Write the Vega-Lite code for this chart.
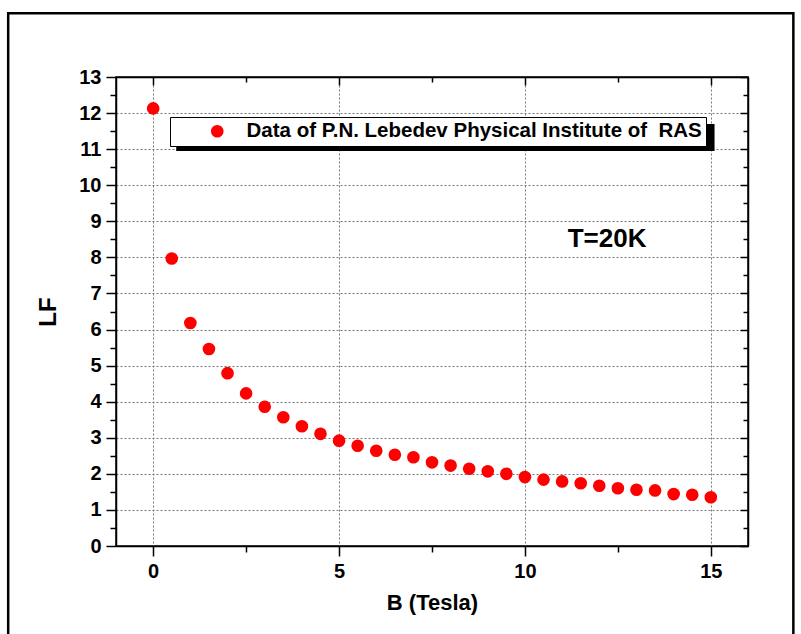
{
  "$schema": "https://vega.github.io/schema/vega-lite/v6.json",
  "width": 632,
  "height": 469,
  "autosize": {"type": "none"},
  "padding": {"left": 116, "top": 77, "right": 53, "bottom": 88},
  "background": "white",
  "config": {
    "font": "Liberation Sans",
    "view": {"stroke": "black", "strokeWidth": 1.5},
    "axis": {
      "domainColor": "black", "domainWidth": 1.5,
      "tickColor": "black", "tickWidth": 1.5,
      "labelFont": "Liberation Sans", "labelFontWeight": "bold", "labelFontSize": 20, "labelColor": "black",
      "titleFont": "Liberation Sans", "titleFontWeight": "bold", "titleColor": "black",
      "gridColor": "#777777", "gridDash": [2, 2], "gridWidth": 1,
      "labelFlush": false, "labelOverlap": false
    }
  },
  "data": {"values": [
    {"B": 0, "LF": 12.13}, {"B": 0.5, "LF": 7.97}, {"B": 1, "LF": 6.18}, {"B": 1.5, "LF": 5.46},
    {"B": 2, "LF": 4.79}, {"B": 2.5, "LF": 4.23}, {"B": 3, "LF": 3.86}, {"B": 3.5, "LF": 3.57},
    {"B": 4, "LF": 3.32}, {"B": 4.5, "LF": 3.11}, {"B": 5, "LF": 2.92}, {"B": 5.5, "LF": 2.78},
    {"B": 6, "LF": 2.64}, {"B": 6.5, "LF": 2.53}, {"B": 7, "LF": 2.46}, {"B": 7.5, "LF": 2.32},
    {"B": 8, "LF": 2.23}, {"B": 8.5, "LF": 2.14}, {"B": 9, "LF": 2.07}, {"B": 9.5, "LF": 2.0},
    {"B": 10, "LF": 1.91}, {"B": 10.5, "LF": 1.84}, {"B": 11, "LF": 1.79}, {"B": 11.5, "LF": 1.74},
    {"B": 12, "LF": 1.67}, {"B": 12.5, "LF": 1.6}, {"B": 13, "LF": 1.56}, {"B": 13.5, "LF": 1.54},
    {"B": 14, "LF": 1.44}, {"B": 14.5, "LF": 1.42}, {"B": 15, "LF": 1.35}
  ]},
  "resolve": {"axis": {"x": "independent", "y": "independent"}},
  "layer": [
    {
      "data": {"values": [{}]},
      "mark": {"type": "rect", "fillOpacity": 0, "stroke": "black", "strokeWidth": 2.5, "clip": false},
      "encoding": {
        "x": {"datum": -3.9, "type": "quantitative", "axis": null, "scale": {"domain": [-1, 16], "nice": false, "zero": false}},
        "x2": {"datum": 17.22},
        "y": {"datum": 14.77, "type": "quantitative", "axis": null, "scale": {"domain": [0, 13], "nice": false, "zero": false}},
        "y2": {"datum": -2.7}
      }
    },
    {
      "data": {"values": [{}]},
      "mark": {"type": "rect", "fill": "black", "clip": false},
      "encoding": {
        "x": {"datum": 0.62, "type": "quantitative", "axis": null},
        "x2": {"datum": 15.1},
        "y": {"datum": 11.7, "type": "quantitative", "axis": null},
        "y2": {"datum": 10.95}
      }
    },
    {
      "mark": {"type": "point", "filled": true, "size": 160, "opacity": 1},
      "encoding": {
        "x": {
          "field": "B", "type": "quantitative",
          "axis": {
            "orient": "bottom",
            "values": [0, 2.5, 5, 7.5, 10, 12.5, 15],
            "labelExpr": "datum.value % 5 === 0 ? format(datum.value, 'd') : ''",
            "tickSize": {"condition": {"test": "datum.value % 5 !== 0", "value": 6}, "value": 10},
            "grid": true,
            "gridOpacity": {"condition": {"test": "datum.value % 5 !== 0", "value": 0}, "value": 1},
            "labelPadding": 5,
            "title": "B (Tesla)", "titleFontSize": 22, "titlePadding": 11
          }
        },
        "y": {
          "field": "LF", "type": "quantitative",
          "axis": {
            "orient": "left",
            "values": [0, 0.5, 1, 1.5, 2, 2.5, 3, 3.5, 4, 4.5, 5, 5.5, 6, 6.5, 7, 7.5, 8, 8.5, 9, 9.5, 10, 10.5, 11, 11.5, 12, 12.5, 13],
            "labelExpr": "datum.value % 1 === 0 ? format(datum.value, 'd') : ''",
            "tickSize": {"condition": {"test": "datum.value % 1 !== 0", "value": 6}, "value": 10},
            "grid": true,
            "gridOpacity": {"condition": {"test": "datum.value % 1 !== 0", "value": 0}, "value": 1},
            "labelPadding": 5,
            "title": "LF", "titleFontSize": 24, "titlePadding": 18
          }
        },
        "color": {
          "datum": "Data of P.N. Lebedev Physical Institute of \u00a0RAS",
          "scale": {"range": ["#ff0000"]},
          "legend": {
            "orient": "none", "legendX": 54, "legendY": 40,
            "title": null, "fillColor": "white", "strokeColor": "black",
            "padding": 4, "symbolOffset": 33, "labelOffset": 19,
            "labelFontSize": 20.5, "labelFont": "Liberation Sans", "labelFontWeight": "bold", "labelColor": "black",
            "symbolSize": 160, "symbolType": "circle", "symbolStrokeWidth": 0, "labelLimit": 1000
          }
        }
      }
    },
    {
      "data": {"values": [{}]},
      "mark": {"type": "text", "text": "T=20K", "font": "Liberation Sans", "fontWeight": "bold", "fontSize": 26, "align": "center", "baseline": "middle", "color": "black"},
      "encoding": {
        "x": {"datum": 12.21, "type": "quantitative", "axis": null},
        "y": {"datum": 8.51, "type": "quantitative", "axis": null}
      }
    },
    {
      "mark": {"type": "point", "opacity": 0},
      "encoding": {
        "x": {
          "field": "B", "type": "quantitative",
          "axis": {
            "orient": "top", "labels": false, "title": null, "grid": false,
            "values": [0, 2.5, 5, 7.5, 10, 12.5, 15],
            "tickSize": {"condition": {"test": "datum.value % 5 !== 0", "value": -5}, "value": -8}
          }
        },
        "y": {
          "field": "LF", "type": "quantitative",
          "axis": {
            "orient": "right", "labels": false, "title": null, "grid": false,
            "values": [0, 0.5, 1, 1.5, 2, 2.5, 3, 3.5, 4, 4.5, 5, 5.5, 6, 6.5, 7, 7.5, 8, 8.5, 9, 9.5, 10, 10.5, 11, 11.5, 12, 12.5, 13],
            "tickSize": {"condition": {"test": "datum.value % 1 !== 0", "value": -5}, "value": -8}
          }
        }
      }
    }
  ]
}
